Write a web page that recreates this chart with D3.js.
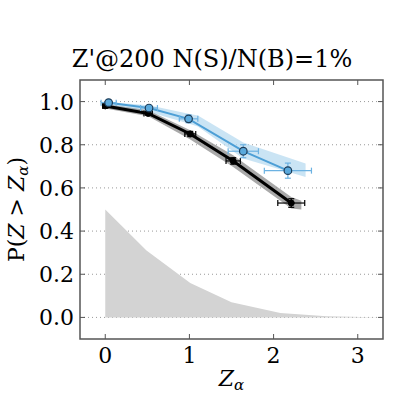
<!DOCTYPE html>
<html>
<head>
<meta charset="utf-8">
<script src="https://cdn.jsdelivr.net/npm/d3@7"></script>
<style>
  body { margin: 0; background: #fff; }
  text { font-family: "DejaVu Serif", serif; }
</style>
</head>
<body>
<div id="chart"></div>
<script>

// blue series (with bkg)
var blueZ    = [0.04, 0.52, 0.99, 1.64, 2.17];
var blueP    = [0.995, 0.97, 0.92, 0.77, 0.68];
var blueXerr = [0.09, 0.10, 0.11, 0.18, 0.28];
var blueYerr = [0.008, 0.01, 0.018, 0.03, 0.035];
var blueBandZ     = [-0.05, 0.52, 0.99, 1.10, 1.64, 2.38];
var blueBandUpper = [1.0, 0.983, 0.944, 0.935, 0.81, 0.713];
var blueBandLower = [0.985, 0.952, 0.898, 0.885, 0.736, 0.651];

// black series
var blackZ    = [0.0, 0.51, 1.01, 1.52, 2.21];
var blackP    = [0.98, 0.945, 0.85, 0.725, 0.53];
var blackXerr = [0.03, 0.05, 0.065, 0.085, 0.16];
var blackYerr = [0.006, 0.008, 0.012, 0.015, 0.02];
var blackBandZ     = [-0.03, 0.51, 1.01, 1.52, 2.21, 2.33];
var blackBandUpper = [0.99, 0.96, 0.867, 0.751, 0.558, 0.54];
var blackBandLower = [0.97, 0.932, 0.824, 0.697, 0.505, 0.50];

// background distribution
var distZ = [0.0, 0.49, 1.01, 1.5, 2.08, 2.63, 3.3];
var distP = [0.50, 0.31, 0.16, 0.07, 0.02, 0.005, 0.0];

var xTicks = [0, 1, 2, 3];
var yTicks = [0.0, 0.2, 0.4, 0.6, 0.8, 1.0];

var width = 399, height = 399;
var margin = {left: 80, right: 16, top: 80, bottom: 60};

var svg = d3.select("#chart").append("svg")
  .attr("width", width).attr("height", height);

var x = d3.scaleLinear().domain([-0.3, 3.3]).range([margin.left, width - margin.right]);
var y = d3.scaleLinear().domain([-0.1, 1.1]).range([height - margin.bottom, margin.top]);

var defs = svg.append("defs");
defs.append("clipPath").attr("id", "clip").append("rect")
  .attr("x", margin.left).attr("y", margin.top)
  .attr("width", x.range()[1] - x.range()[0]).attr("height", y.range()[0] - y.range()[1]);

//grid
svg.append("g").selectAll("line").data(yTicks).enter().append("line")
  .attr("x1", x.range()[0]).attr("x2", x.range()[1])
  .attr("y1", function(d){ return y(d); }).attr("y2", function(d){ return y(d); })
  .attr("stroke", "#999").attr("stroke-width", 1).attr("stroke-dasharray", "1,3");

var plot = svg.append("g").attr("clip-path", "url(#clip)");

// distribution
var distArea = d3.area()
  .x(function(d){ return x(d[0]); })
  .y0(y(0)).y1(function(d){ return y(d[1]); });
plot.append("path")
  .attr("d", distArea(distZ.map(function(z, i){ return [z, distP[i]]; })))
  .attr("fill", "#d3d3d3");

function band(bz, up, lo, color, opacity){
  var a = d3.area()
    .x(function(d){ return x(d[0]); })
    .y0(function(d){ return y(d[2]); })
    .y1(function(d){ return y(d[1]); });
  plot.append("path")
    .attr("d", a(bz.map(function(z, i){ return [z, up[i], lo[i]]; })))
    .attr("fill", color).attr("fill-opacity", opacity);
}

function series(zs, ps, xe, ye, lineColor, lineW, errColor, marker){
  var line = d3.line().x(function(d){ return x(d[0]); }).y(function(d){ return y(d[1]); });
  var pts = zs.map(function(z, i){ return [z, ps[i]]; });
  var g = plot.append("g");
  g.append("path").attr("d", line(pts)).attr("fill", "none")
    .attr("stroke", lineColor).attr("stroke-width", lineW);
  var cap = 3;
  pts.forEach(function(p, i){
    var cx = x(p[0]), cy = y(p[1]);
    var x0 = x(p[0] - xe[i]), x1 = x(p[0] + xe[i]);
    var y0 = y(p[1] - ye[i]), y1 = y(p[1] + ye[i]);
    var e = g.append("g").attr("stroke", errColor).attr("stroke-width", 1.2);
    e.append("line").attr("x1", x0).attr("x2", x1).attr("y1", cy).attr("y2", cy);
    e.append("line").attr("x1", x0).attr("x2", x0).attr("y1", cy - cap).attr("y2", cy + cap);
    e.append("line").attr("x1", x1).attr("x2", x1).attr("y1", cy - cap).attr("y2", cy + cap);
    e.append("line").attr("x1", cx).attr("x2", cx).attr("y1", y0).attr("y2", y1);
    e.append("line").attr("x1", cx - cap).attr("x2", cx + cap).attr("y1", y0).attr("y2", y0);
    e.append("line").attr("x1", cx - cap).attr("x2", cx + cap).attr("y1", y1).attr("y2", y1);
  });
  g.selectAll("circle").data(pts).enter().append("circle")
    .attr("cx", function(d){ return x(d[0]); }).attr("cy", function(d){ return y(d[1]); })
    .attr("r", marker.r).attr("fill", marker.fill)
    .attr("stroke", marker.stroke).attr("stroke-width", marker.sw);
}

band(blueBandZ, blueBandUpper, blueBandLower, "#b3d8f0", 0.7);
band(blackBandZ, blackBandUpper, blackBandLower, "#8c8c8c", 0.75);

series(blackZ, blackP, blackXerr, blackYerr, "#000", 3, "#000",
  {r: 3, fill: "#000", stroke: "#000", sw: 1});
series(blueZ, blueP, blueXerr, blueYerr, "#4d9fd6", 2, "#6cb2e2",
  {r: 3.8, fill: "#5aa9dc", stroke: "#1d3c58", sw: 1.2});

// frame
var fx0 = x.range()[0], fx1 = x.range()[1], fy0 = y.range()[1], fy1 = y.range()[0];
svg.append("rect").attr("x", fx0).attr("y", fy0)
  .attr("width", fx1 - fx0).attr("height", fy1 - fy0)
  .attr("fill", "none").attr("stroke", "#555").attr("stroke-width", 1.5);

// ticks (inward, all sides)
var tl = 5;
var tk = svg.append("g").attr("stroke", "#555").attr("stroke-width", 1);
xTicks.forEach(function(t){
  tk.append("line").attr("x1", x(t)).attr("x2", x(t)).attr("y1", fy1).attr("y2", fy1 - tl);
  tk.append("line").attr("x1", x(t)).attr("x2", x(t)).attr("y1", fy0).attr("y2", fy0 + tl);
});
yTicks.forEach(function(t){
  tk.append("line").attr("x1", fx0).attr("x2", fx0 + tl).attr("y1", y(t)).attr("y2", y(t));
  tk.append("line").attr("x1", fx1).attr("x2", fx1 - tl).attr("y1", y(t)).attr("y2", y(t));
});

// tick labels
var fs = 22;
svg.append("g").selectAll("text").data(xTicks).enter().append("text")
  .attr("x", function(d){ return x(d); }).attr("y", fy1 + 24)
  .attr("text-anchor", "middle").attr("font-size", fs).attr("fill", "#000")
  .text(function(d){ return d; });
svg.append("g").selectAll("text").data(yTicks).enter().append("text")
  .attr("x", fx0 - 6).attr("y", function(d){ return y(d) + 8; })
  .attr("text-anchor", "end").attr("font-size", fs).attr("fill", "#000")
  .text(function(d){ return d3.format(".1f")(d); });

// title
svg.append("text").attr("x", 212).attr("y", 67)
  .attr("text-anchor", "middle").attr("font-size", 24).attr("fill", "#000")
  .text("Z'@200 N(S)/N(B)=1%");

// x label
var xl = svg.append("text").attr("x", (fx0 + fx1) / 2).attr("y", 386)
  .attr("text-anchor", "middle").attr("font-size", fs);
xl.append("tspan").attr("font-style", "italic").text("Z");
xl.append("tspan").attr("font-style", "italic").attr("font-size", 15).attr("dy", 4).text("α");

// y label
var yl = svg.append("text")
  .attr("transform", "translate(24," + ((fy0 + fy1) / 2) + ") rotate(-90)")
  .attr("text-anchor", "middle").attr("font-size", fs);
yl.append("tspan").text("P(");
yl.append("tspan").attr("font-style", "italic").text("Z");
yl.append("tspan").text(" > ");
yl.append("tspan").attr("font-style", "italic").text("Z");
yl.append("tspan").attr("font-style", "italic").attr("font-size", 15).attr("dy", 4).text("α");
yl.append("tspan").attr("dy", -4).text(")");

</script>
</body>
</html>
